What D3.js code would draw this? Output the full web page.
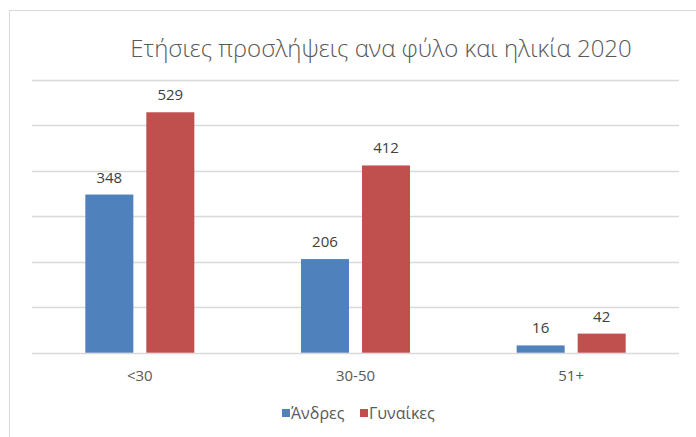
<!DOCTYPE html>
<html>
<head>
<meta charset="utf-8">
<script src="https://cdn.jsdelivr.net/npm/d3@7"></script>
<style>
  body { margin: 0; background: #fff; }
  text { font-family: "Open Sans", "Noto Sans", sans-serif; }
</style>
</head>
<body>
<script>
  const categories = ["<30", "30-50", "51+"];
  const seriesNames = ["Άνδρες", "Γυναίκες"];
  const men = [348, 206, 16];
  const women = [529, 412, 42];
  const yTicks = [0, 100, 200, 300, 400, 500, 600];
  const colors = ["#4F81BD", "#C0504D"];

  const width = 696, height = 437;
  const svg = d3.select("body").append("svg")
    .attr("width", width)
    .attr("height", height);

  // chart frame
  svg.append("rect")
    .attr("x", 9.5).attr("y", 10.5)
    .attr("width", 720).attr("height", 460)
    .attr("fill", "none")
    .attr("stroke", "#d9d9d9");

  svg.append("text")
    .attr("x", 381).attr("y", 57)
    .attr("text-anchor", "middle")
    .style("font-size", "24px")
    .style("font-weight", 300)
    .attr("fill", "#595959")
    .text("Ετήσιες προσλήψεις ανα φύλο και ηλικία 2020");

  const plot = { left: 32, right: 679, top: 80, bottom: 352.7 };

  const y = d3.scaleLinear().domain([0, 600]).range([plot.bottom, plot.top]);
  const x0 = d3.scaleBand().domain(categories).range([plot.left, plot.right]);
  const x1 = d3.scaleBand().domain(seriesNames).range([0, x0.bandwidth()])
    .paddingInner(0.213).paddingOuter(0.874);

  // gridlines
  svg.append("g").selectAll("line")
    .data(yTicks)
    .enter().append("line")
    .attr("x1", plot.left).attr("x2", plot.right)
    .attr("y1", d => Math.round(y(d)) + 0.5)
    .attr("y2", d => Math.round(y(d)) + 0.5)
    .attr("stroke", "#d9d9d9")
    .attr("stroke-width", 1.5);

  const rows = categories.map((c, i) => ({ cat: c, vals: [men[i], women[i]] }));

  const groups = svg.append("g").selectAll("g")
    .data(rows)
    .enter().append("g")
    .attr("transform", d => "translate(" + x0(d.cat) + ",0)");

  groups.selectAll("rect")
    .data(d => d.vals.map((v, j) => ({ name: seriesNames[j], v: v, j: j })))
    .enter().append("rect")
    .attr("x", d => x1(d.name))
    .attr("width", x1.bandwidth())
    .attr("y", d => y(d.v))
    .attr("height", d => y(0) - y(d.v))
    .attr("fill", d => colors[d.j]);

  groups.selectAll(".lbl")
    .data(d => d.vals.map((v, j) => ({ name: seriesNames[j], v: v })))
    .enter().append("text")
    .attr("class", "lbl")
    .attr("x", d => x1(d.name) + x1.bandwidth() / 2)
    .attr("y", d => y(d.v) - 12)
    .attr("text-anchor", "middle")
    .style("font-size", "15px")
    .attr("fill", "#404040")
    .text(d => d.v);

  // category axis labels
  svg.append("g").selectAll("text")
    .data(categories)
    .enter().append("text")
    .attr("x", d => x0(d) + x0.bandwidth() / 2)
    .attr("y", 381)
    .attr("text-anchor", "middle")
    .style("font-size", "15px")
    .attr("fill", "#595959")
    .text(d => d);

  // legend
  const legend = svg.append("g");
  const legendX = [282, 360];
  seriesNames.forEach((n, i) => {
    legend.append("rect")
      .attr("x", legendX[i]).attr("y", 409)
      .attr("width", 8).attr("height", 8)
      .attr("fill", colors[i]);
    legend.append("text")
      .attr("x", legendX[i] + 9).attr("y", 419)
      .style("font-size", "16px")
      .attr("fill", "#595959")
      .text(n);
  });
</script>
</body>
</html>
